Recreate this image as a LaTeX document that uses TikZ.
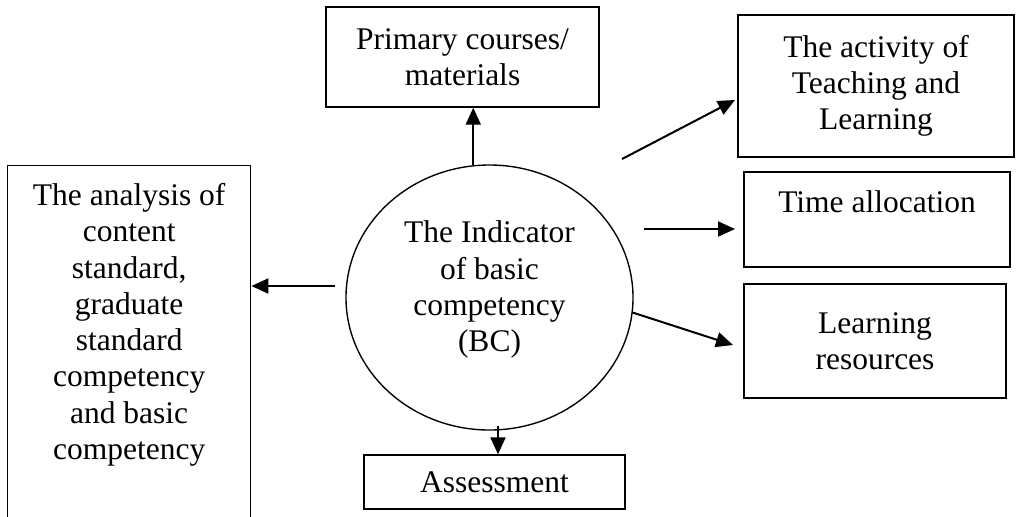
\documentclass[tikz,border=0pt]{standalone}
\usepackage{fontspec}
\setmainfont{Liberation Serif}
\usetikzlibrary{shapes.geometric,arrows.meta}
\begin{document}
\begin{tikzpicture}[x=0.4pt,y=-0.4pt,
  every node/.style={font=\fontsize{12.6}{14.5}\selectfont},
  box/.style={draw,line width=0.55pt,inner sep=0pt,align=center},
  arr/.style={line width=0.8pt,-{Triangle[length=6.8pt,width=6pt]}}]
\clip (0,0) rectangle (1019,516);

% central ellipse
\node[draw,line width=0.55pt,ellipse,inner sep=0pt,align=center,
      minimum width=114.8pt,minimum height=106pt] (ind) at (489.5,297.5)
  {The Indicator\\of basic\\competency\\(BC)\rule[-9pt]{0pt}{0pt}};

% surrounding boxes
\node[box,minimum width=109.2pt,minimum height=40pt] (courses) at (462.5,57)
  {Primary courses/\\materials};
\node[box,minimum width=110.4pt,minimum height=56.8pt] (activity) at (876,86)
  {The activity of\\Teaching and\\Learning};
\node[box,minimum width=106.4pt,minimum height=38pt] (time) at (877,219.5)
  {Time allocation\\\mbox{}};
\node[box,minimum width=104.8pt,minimum height=45.6pt] (resources) at (875,341)
  {Learning\\resources};
\node[box,minimum width=104.4pt,minimum height=21.6pt] (assess) at (494.5,482)
  {Assessment};
\node[box,anchor=north west] (analysis) at (7,165)
  {\parbox[c][150pt][t]{97.2pt}{\centering
   \rule{0pt}{16pt}The analysis of\\content\\standard,\\graduate\\standard\\competency\\and basic\\competency}};

% free ends of the connectors
\coordinate (tL) at (335,286);
\coordinate (tA) at (622,159);
\coordinate (hA) at (735,100);
\coordinate (tT) at (644,229);
\coordinate (hT) at (735,229);
\coordinate (hR) at (733,345);

% connectors
\draw[arr] (ind.97) -- (ind.97 |- courses.south);
\draw[arr] ([xshift=3.4pt,yshift=2pt]ind.south) -- ([xshift=3.4pt]ind.south |- assess.north);
\draw[arr] (tL) -- (tL -| analysis.east);
\draw[arr] (tA) -- (hA);
\draw[arr] (tT) -- (hT);
\draw[arr] (ind.-6) -- (hR);
\end{tikzpicture}
\end{document}
